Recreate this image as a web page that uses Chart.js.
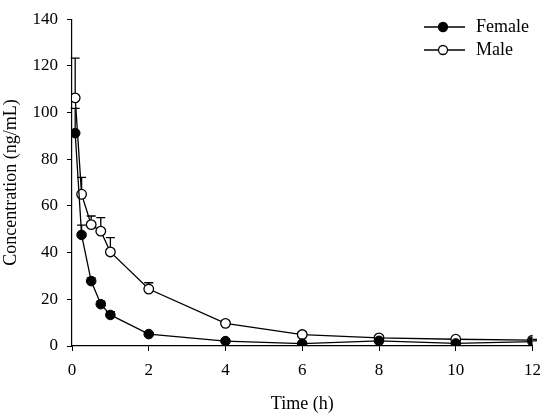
<!DOCTYPE html>
<html>
<head>
<meta charset="utf-8">
<script src="https://cdn.jsdelivr.net/npm/chart.js@4/dist/chart.umd.min.js"></script>
<style>
  html, body { margin: 0; padding: 0; background: #fff; }
  #wrap { width: 550px; height: 417px; }
</style>
</head>
<body>
<div id="wrap"><canvas id="c" width="550" height="417"></canvas></div>
<script>
const timePoints = [0.083, 0.25, 0.5, 0.75, 1, 2, 4, 6, 8, 10, 12];
const femaleMean = [91.2, 47.6, 27.8, 17.9, 13.3, 5.1, 2.1, 1.0, 2.2, 1.1, 1.9];
const femaleSD   = [10.6, 4.2, 1.4, 1.3, 1.4, 0.5, 0.4, 0.3, 0.4, 0.3, 0.3];
const maleMean   = [106.3, 65.0, 52.0, 49.2, 40.3, 24.4, 9.7, 4.9, 3.5, 2.9, 2.5];
const maleSD     = [17.0, 7.2, 3.7, 5.8, 6.1, 2.7, 1.1, 1.2, 0.4, 0.4, 0.3];
const xTicks = [0, 2, 4, 6, 8, 10, 12];
const yTicks = [0, 20, 40, 60, 80, 100, 120, 140];

const FONT = "'Liberation Serif', 'Times New Roman', serif";

const toPts = (m) => timePoints.map((t, i) => ({ x: t, y: m[i] }));

const errorBars = {
  id: 'errorBars',
  beforeDatasetsDraw(chart) {
    const ctx = chart.ctx;
    const xs = chart.scales.x, ys = chart.scales.y;
    ctx.save();
    ctx.strokeStyle = '#000';
    ctx.lineWidth = 1.3;
    chart.data.datasets.forEach(ds => {
      ds.sd.forEach((s, i) => {
        const px = xs.getPixelForValue(ds.data[i].x);
        const y0 = ys.getPixelForValue(ds.data[i].y);
        const y1 = ys.getPixelForValue(ds.data[i].y + s);
        ctx.beginPath();
        ctx.moveTo(px, y0);
        ctx.lineTo(px, y1);
        ctx.moveTo(px - 4.5, y1);
        ctx.lineTo(px + 4.5, y1);
        ctx.stroke();
      });
    });
    ctx.restore();
  }
};

const customLegend = {
  id: 'customLegend',
  afterDraw(chart) {
    const ctx = chart.ctx;
    ctx.save();
    chart.data.datasets.forEach((ds, i) => {
      const y = 27 + i * 23;
      ctx.strokeStyle = '#000';
      ctx.lineWidth = 1.3;
      ctx.beginPath();
      ctx.moveTo(424, y);
      ctx.lineTo(465, y);
      ctx.stroke();
      ctx.beginPath();
      ctx.arc(443, y, 4.5, 0, Math.PI * 2);
      ctx.fillStyle = ds.pointBackgroundColor;
      ctx.fill();
      ctx.stroke();
      ctx.fillStyle = '#000';
      ctx.font = '18px ' + FONT;
      ctx.textBaseline = 'middle';
      ctx.textAlign = 'left';
      ctx.fillText(ds.label, 476, y);
    });
    ctx.restore();
  }
};

new Chart(document.getElementById('c'), {
  type: 'line',
  data: {
    datasets: [
      {
        label: 'Female',
        data: toPts(femaleMean),
        sd: femaleSD,
        borderColor: '#000',
        borderWidth: 1.3,
        pointRadius: 4.8,
        pointBackgroundColor: '#000',
        pointBorderColor: '#000',
        pointBorderWidth: 1,
        tension: 0
      },
      {
        label: 'Male',
        data: toPts(maleMean),
        sd: maleSD,
        borderColor: '#000',
        borderWidth: 1.3,
        pointRadius: 4.8,
        pointBackgroundColor: '#fff',
        pointBorderColor: '#000',
        pointBorderWidth: 1.3,
        tension: 0
      }
    ]
  },
  options: {
    responsive: false,
    animation: false,
    devicePixelRatio: 1,
    layout: { padding: { left: 0, right: 15, top: 11, bottom: 0 } },
    plugins: { legend: { display: false }, tooltip: { enabled: false } },
    scales: {
      x: {
        type: 'linear',
        min: 0, max: 12,
        afterBuildTicks(s) { s.ticks = xTicks.map(v => ({ value: v })); },
        afterFit(s) { s.height = 71; },
        grid: { display: true, drawOnChartArea: false, drawTicks: true, tickLength: 5, color: '#000', lineWidth: 1 },
        border: { display: true, color: '#000', width: 1.2 },
        ticks: { color: '#000', font: { family: FONT, size: 17 }, padding: 9, maxRotation: 0 },
        title: { display: true, text: 'Time (h)', color: '#000', font: { family: FONT, size: 18 }, padding: { top: 0, bottom: 2 } }
      },
      y: {
        type: 'linear',
        min: 0, max: 140,
        afterBuildTicks(s) { s.ticks = yTicks.map(v => ({ value: v })); },
        afterFit(s) { s.width = 72; },
        grid: { display: true, drawOnChartArea: false, drawTicks: true, tickLength: 5, color: '#000', lineWidth: 1 },
        border: { display: true, color: '#000', width: 1.2 },
        ticks: { color: '#000', font: { family: FONT, size: 17 }, padding: 9 },
        title: { display: true, text: 'Concentration (ng/mL)', color: '#000', font: { family: FONT, size: 18 }, padding: { top: 0, bottom: 0 } }
      }
    }
  },
  plugins: [errorBars, customLegend]
});
</script>
</body>
</html>
